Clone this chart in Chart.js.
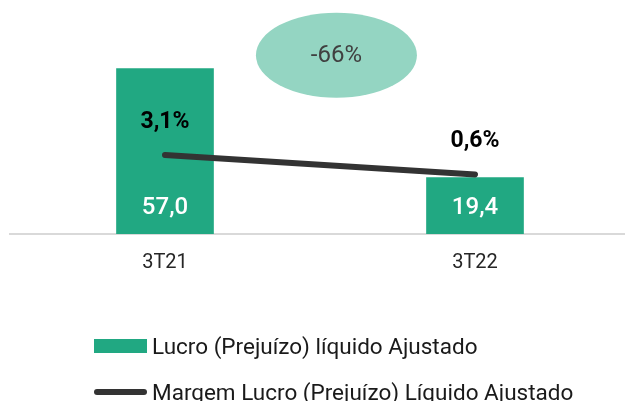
<!DOCTYPE html>
<html>
<head>
<meta charset="utf-8">
<script src="https://cdn.jsdelivr.net/npm/chart.js@4/dist/chart.umd.min.js"></script>
<style>
  body { margin: 0; background: #fff; }
  #wrap { position: relative; width: 625px; height: 401px; overflow: hidden; }
  #legend { position: absolute; left: 94px; top: 333px; font-family: Roboto, sans-serif; font-size: 22.5px; color: #1a1a1a; }
  .item { display: flex; align-items: center; height: 26px; margin-bottom: 20px; white-space: nowrap; }
  .swatch { width: 53px; margin-right: 5px; }
</style>
</head>
<body>
<div id="wrap">
  <canvas id="chart" width="630" height="401"></canvas>
  <div id="legend"></div>
</div>
<script>
var periodos = ['3T21', '3T22'];
var lucro = [57.0, 19.4];
var margem = [3.1, 0.6];
var variacao = '-66%';

var verde = '#21a882';
var cinza = '#333333';

function fmt(v, dec) {
    return v.toFixed(dec).replace('.', ',');
}

var rotulos = {
    id: 'rotulos',
    afterDatasetsDraw: function (chart) {
        var ctx = chart.ctx;
        ctx.save();
        ctx.textAlign = 'center';
        ctx.textBaseline = 'middle';

        var barras = chart.getDatasetMeta(1);
        ctx.fillStyle = '#ffffff';
        ctx.font = '500 24px Roboto';
        barras.data.forEach(function (el, i) {
            ctx.fillText(fmt(lucro[i], 1), el.x, el.base - 26);
        });

        var linha = chart.getDatasetMeta(0);
        ctx.fillStyle = '#000000';
        ctx.font = 'bold 23px Roboto';
        linha.data.forEach(function (el, i) {
            ctx.fillText(fmt(margem[i], 1) + '%', el.x, el.y - 33);
        });

        // balão da variação
        var x = chart.scales.x.getPixelForValue(0.553);
        var y = chart.scales.y.getPixelForValue(61.6);
        ctx.fillStyle = '#94d5c2';
        ctx.beginPath();
        ctx.ellipse(x, y, 80.5, 42.5, 0, 0, Math.PI * 2);
        ctx.fill();
        ctx.fillStyle = '#404040';
        ctx.font = '24px Roboto';
        ctx.fillText(variacao, x, y + 1);
        ctx.restore();
    }
};

var chart = new Chart('chart', {
    type: 'bar',
    data: {
        labels: periodos,
        datasets: [{
            type: 'line',
            label: 'Margem Lucro (Prejuízo) Líquido Ajustado',
            data: margem,
            yAxisID: 'y2',
            borderColor: cinza,
            borderWidth: 6,
            borderCapStyle: 'round',
            pointRadius: 0,
            order: 0
        }, {
            label: 'Lucro (Prejuízo) líquido Ajustado',
            data: lucro,
            backgroundColor: verde,
            barThickness: 97,
            order: 1
        }]
    },
    options: {
        responsive: false,
        animation: false,
        layout: { padding: { left: 10, right: 0, top: 0, bottom: 109 } },
        plugins: {
            legend: { display: false },
            tooltip: { enabled: false }
        },
        scales: {
            x: {
                grid: { display: false, drawTicks: false },
                border: { display: true, color: '#d9d9d9', width: 2 },
                ticks: { color: '#262626', font: { family: 'Roboto', size: 20 }, padding: 17 }
            },
            y: { display: false, min: 0, max: 80.6 },
            y2: { display: false, min: -7.09, max: 23.1 }
        }
    },
    plugins: [rotulos]
});

// legenda
var leg = document.getElementById('legend');
[1, 0].forEach(function (i) {
    var ds = chart.data.datasets[i];
    var item = document.createElement('div');
    item.className = 'item';
    var sw = document.createElement('span');
    sw.className = 'swatch';
    if (ds.type === 'line') {
        sw.style.height = '6px';
        sw.style.borderRadius = '3px';
        sw.style.background = ds.borderColor;
    } else {
        sw.style.height = '14px';
        sw.style.background = ds.backgroundColor;
    }
    var txt = document.createElement('span');
    txt.textContent = ds.label;
    item.appendChild(sw);
    item.appendChild(txt);
    leg.appendChild(item);
});
</script>
</body>
</html>
